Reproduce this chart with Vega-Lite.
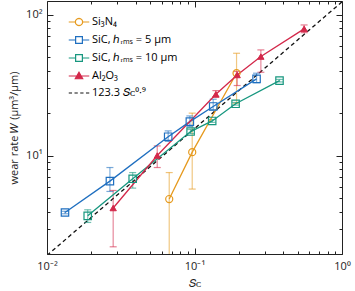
{
  "$schema": "https://vega.github.io/schema/vega-lite/v6.json",
  "width": 295,
  "height": 253,
  "autosize": "none",
  "padding": {"left": 47, "top": 1, "right": 13, "bottom": 37},
  "background": "white",
  "config": {
    "font": "Open Sans",
    "view": {"stroke": null},
    "axis": {"grid": false, "domainColor": "#222", "tickColor": "#222", "labelColor": "#222", "titleColor": "#222", "labelFontSize": 11, "titleFontSize": 11, "titleFontWeight": "normal", "labelFont": "Open Sans", "titleFont": "Open Sans"}
  },
  "datasets": {
    "pts": [
      {"s": "Si₃N₄", "x": 0.0674, "y": 4.91, "lo": 1.5, "hi": 7.57},
      {"s": "Si₃N₄", "x": 0.0965, "y": 10.57, "lo": 5.78, "hi": 20.0},
      {"s": "Si₃N₄", "x": 0.1928, "y": 38.4, "lo": 23.5, "hi": 53.2},
      {"s": "SiC, ℎᵣₘₛ = 5 µm", "x": 0.01324, "y": 3.94, "lo": 3.86, "hi": 4.02},
      {"s": "SiC, ℎᵣₘₛ = 5 µm", "x": 0.0267, "y": 6.58, "lo": 5.56, "hi": 8.22},
      {"s": "SiC, ℎᵣₘₛ = 5 µm", "x": 0.0663, "y": 13.6, "lo": 12.6, "hi": 14.96},
      {"s": "SiC, ℎᵣₘₛ = 5 µm", "x": 0.093, "y": 17.4, "lo": 16.1, "hi": 19.1},
      {"s": "SiC, ℎᵣₘₛ = 5 µm", "x": 0.1339, "y": 22.3, "lo": 21.1, "hi": 25.1},
      {"s": "SiC, ℎᵣₘₛ = 5 µm", "x": 0.2635, "y": 35.0, "lo": 32.9, "hi": 38.4},
      {"s": "SiC, ℎᵣₘₛ = 10 µm", "x": 0.01888, "y": 3.73, "lo": 3.35, "hi": 4.12},
      {"s": "SiC, ℎᵣₘₛ = 10 µm", "x": 0.0381, "y": 6.84, "lo": 5.87, "hi": 7.57},
      {"s": "SiC, ℎᵣₘₛ = 10 µm", "x": 0.0941, "y": 14.8, "lo": 14.3, "hi": 15.3},
      {"s": "SiC, ℎᵣₘₛ = 10 µm", "x": 0.1318, "y": 17.6, "lo": 17.2, "hi": 18.0},
      {"s": "SiC, ℎᵣₘₛ = 10 µm", "x": 0.19, "y": 23.3, "lo": 22.8, "hi": 23.8},
      {"s": "SiC, ℎᵣₘₛ = 10 µm", "x": 0.377, "y": 34.0, "lo": 33.3, "hi": 34.7},
      {"s": "Al₂O₃", "x": 0.0281, "y": 4.24, "lo": 2.25, "hi": 5.65},
      {"s": "Al₂O₃", "x": 0.0559, "y": 10.0, "lo": 8.22, "hi": 11.7},
      {"s": "Al₂O₃", "x": 0.1396, "y": 27.2, "lo": 25.9, "hi": 28.9},
      {"s": "Al₂O₃", "x": 0.1947, "y": 37.3, "lo": 31.4, "hi": 39.5},
      {"s": "Al₂O₃", "x": 0.2818, "y": 50.4, "lo": 39.0, "hi": 56.2},
      {"s": "Al₂O₃", "x": 0.5536, "y": 79.3, "lo": 74.5, "hi": 84.5}
    ],
    "fit": [
      {"s": "123.3 𝑆ᴄ⁰·⁹", "x": 0.01, "y": 1.954},
      {"s": "123.3 𝑆ᴄ⁰·⁹", "x": 1, "y": 123.3}
    ]
  },
  "resolve": {"axis": {"x": "independent", "y": "independent"}},
  "layer": [
    {
      "data": {"name": "pts"},
      "mark": {"type": "point", "opacity": 0, "filled": false},
      "encoding": {
        "x": {"field": "x", "type": "quantitative", "scale": {"type": "log", "domain": [0.01, 1], "nice": false},
          "axis": {"orient": "bottom", "title": "𝑆ᴄ", "values": [0.01,0.02,0.03,0.04,0.05,0.06,0.07,0.08,0.09,0.1,0.2,0.3,0.4,0.5,0.6,0.7,0.8,0.9,1],
            "labelExpr": "datum.value == 0.01 ? '10⁻²' : (datum.value == 0.1 ? '10⁻¹' : (datum.value == 1 ? '10⁰' : ''))",
            "tickSize": {"condition": {"test": "datum.value == 0.01 || datum.value == 0.1 || datum.value == 1", "value": -6}, "value": -3},
            "labelPadding": 12, "titlePadding": 3, "labelFlush": false, "labelOverlap": false}},
        "y": {"field": "y", "type": "quantitative", "scale": {"type": "log", "domain": [2, 125], "nice": false},
          "axis": {"orient": "left", "title": "wear rate 𝑊 (µm³/µm)", "values": [2,3,4,5,6,7,8,9,10,20,30,40,50,60,70,80,90,100],
            "labelExpr": "datum.value == 10 ? '10¹' : (datum.value == 100 ? '10²' : '')",
            "tickSize": {"condition": {"test": "datum.value == 10 || datum.value == 100", "value": -6}, "value": -3},
            "labelPadding": 11, "titlePadding": 6, "labelFlush": false, "labelOverlap": false}},
        "color": {"field": "s", "type": "nominal",
          "scale": {"domain": ["Si₃N₄", "SiC, ℎᵣₘₛ = 5 µm", "SiC, ℎᵣₘₛ = 10 µm", "Al₂O₃", "123.3 𝑆ᴄ⁰·⁹"],
            "range": ["#e69a1e", "#1f6fc0", "#17977f", "#d3284a", "#111111"]},
          "legend": {"orient": "none", "legendX": 21, "legendY": 10, "title": null, "labelFontSize": 11, "symbolSize": 420, "symbolStrokeWidth": 1.2, "symbolOpacity": 1, "rowPadding": -4, "labelOffset": 2, "padding": 0}},
        "shape": {"field": "s", "type": "nominal",
          "scale": {"domain": ["Si₃N₄", "SiC, ℎᵣₘₛ = 5 µm", "SiC, ℎᵣₘₛ = 10 µm", "Al₂O₃", "123.3 𝑆ᴄ⁰·⁹"],
            "range": [
              "M-1,0H-0.36M0.36,0H1M0.36,0L0.312,0.18M0.312,0.18L0.18,0.312M0.18,0.312L0,0.36M0,0.36L-0.18,0.312M-0.18,0.312L-0.312,0.18M-0.312,0.18L-0.36,0M-0.36,0L-0.312,-0.18M-0.312,-0.18L-0.18,-0.312M-0.18,-0.312L0,-0.36M0,-0.36L0.18,-0.312M0.18,-0.312L0.312,-0.18M0.312,-0.18L0.36,0",
              "M-1,0H-0.33M0.33,0H1M-0.39,-0.33H0.39M0.33,-0.39V0.39M0.39,0.33H-0.39M-0.33,0.39V-0.39",
              "M-1,0H-0.33M0.33,0H1M-0.39,-0.33H0.39M0.33,-0.39V0.39M0.39,0.33H-0.39M-0.33,0.39V-0.39",
              "M-1,0H1M0,-0.36L0.36,0.27H-0.36Z",
              "M-1,0H-0.68M-0.44,0H-0.12M0.12,0H0.44M0.68,0H1"
            ]},
          "legend": {"orient": "none", "legendX": 21, "legendY": 10, "title": null, "labelFontSize": 11, "symbolSize": 420, "symbolStrokeWidth": 1.2, "symbolOpacity": 1, "rowPadding": -4, "labelOffset": 2, "padding": 0}}
      }
    },
    {
      "data": {"name": "pts"},
      "mark": {"type": "point", "opacity": 0},
      "encoding": {
        "x": {"field": "x", "type": "quantitative",
          "axis": {"orient": "top", "title": null, "labels": false, "values": [0.01,0.02,0.03,0.04,0.05,0.06,0.07,0.08,0.09,0.1,0.2,0.3,0.4,0.5,0.6,0.7,0.8,0.9,1],
            "tickSize": {"condition": {"test": "datum.value == 0.01 || datum.value == 0.1 || datum.value == 1", "value": -6}, "value": -3}}},
        "y": {"field": "y", "type": "quantitative",
          "axis": {"orient": "right", "title": null, "labels": false, "values": [2,3,4,5,6,7,8,9,10,20,30,40,50,60,70,80,90,100],
            "tickSize": {"condition": {"test": "datum.value == 10 || datum.value == 100", "value": -6}, "value": -3}}}
      }
    },
    {
      "data": {"name": "fit"},
      "mark": {"type": "line", "strokeDash": [4, 3], "strokeWidth": 1.3, "color": "#111111", "clip": true},
      "encoding": {
        "x": {"field": "x", "type": "quantitative", "axis": null},
        "y": {"field": "y", "type": "quantitative", "axis": null}
      }
    },
    {
      "data": {"name": "pts"},
      "mark": {"type": "rule", "opacity": 0.55, "strokeWidth": 1.2, "clip": true},
      "encoding": {
        "x": {"field": "x", "type": "quantitative", "axis": null},
        "y": {"field": "lo", "type": "quantitative", "axis": null},
        "y2": {"field": "hi"},
        "color": {"field": "s", "type": "nominal", "legend": null}
      }
    },
    {
      "data": {"name": "pts"},
      "mark": {"type": "tick", "orient": "horizontal", "size": 7, "thickness": 1.2, "opacity": 0.6, "clip": true},
      "encoding": {
        "x": {"field": "x", "type": "quantitative", "axis": null},
        "y": {"field": "lo", "type": "quantitative", "axis": null},
        "color": {"field": "s", "type": "nominal", "legend": null}
      }
    },
    {
      "data": {"name": "pts"},
      "mark": {"type": "tick", "orient": "horizontal", "size": 7, "thickness": 1.2, "opacity": 0.6, "clip": true},
      "encoding": {
        "x": {"field": "x", "type": "quantitative", "axis": null},
        "y": {"field": "hi", "type": "quantitative", "axis": null},
        "color": {"field": "s", "type": "nominal", "legend": null}
      }
    },
    {
      "data": {"name": "pts"},
      "mark": {"type": "line", "strokeWidth": 1.3},
      "encoding": {
        "x": {"field": "x", "type": "quantitative", "axis": null},
        "y": {"field": "y", "type": "quantitative", "axis": null},
        "color": {"field": "s", "type": "nominal", "legend": null},
        "order": {"field": "x", "type": "quantitative"}
      }
    },
    {
      "data": {"name": "pts"},
      "transform": [{"filter": "datum.s == 'Si₃N₄'"}],
      "mark": {"type": "point", "shape": "circle", "filled": false, "size": 50, "strokeWidth": 1.2, "opacity": 1},
      "encoding": {
        "x": {"field": "x", "type": "quantitative", "axis": null},
        "y": {"field": "y", "type": "quantitative", "axis": null},
        "color": {"field": "s", "type": "nominal", "legend": null}
      }
    },
    {
      "data": {"name": "pts"},
      "transform": [{"filter": "datum.s == 'SiC, ℎᵣₘₛ = 5 µm' || datum.s == 'SiC, ℎᵣₘₛ = 10 µm'"}],
      "mark": {"type": "point", "shape": "square", "filled": false, "size": 55, "strokeWidth": 1.2, "opacity": 1},
      "encoding": {
        "x": {"field": "x", "type": "quantitative", "axis": null},
        "y": {"field": "y", "type": "quantitative", "axis": null},
        "color": {"field": "s", "type": "nominal", "legend": null}
      }
    },
    {
      "data": {"name": "pts"},
      "transform": [{"filter": "datum.s == 'Al₂O₃'"}],
      "mark": {"type": "point", "shape": "triangle-up", "filled": false, "fill": "#d3284a", "fillOpacity": 1, "size": 40, "strokeWidth": 1, "opacity": 1},
      "encoding": {
        "x": {"field": "x", "type": "quantitative", "axis": null},
        "y": {"field": "y", "type": "quantitative", "axis": null},
        "color": {"field": "s", "type": "nominal", "legend": null}
      }
    }
  ]
}
